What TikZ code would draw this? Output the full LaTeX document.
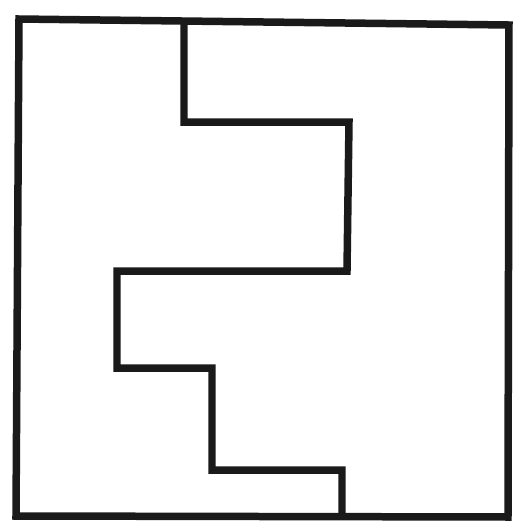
\documentclass[tikz,border=0pt]{standalone}
\usepackage{tikz}
\usetikzlibrary{calc}
\usepackage{xcolor}
\definecolor{ink}{HTML}{1A1A1A}

\begin{document}
\begin{tikzpicture}[x=0.02cm, y=-0.02cm,
    wall/.style={ink, line width=0.15cm, line join=miter}]
  \useasboundingbox (0,0) rectangle (514,522);
  % outer frame
  \coordinate (tl) at (19,19);
  \coordinate (tr) at (509,25);
  \coordinate (br) at (508,517);
  \coordinate (bl) at (16,516);
  \draw[wall] (tl) -- (tr) -- (br) -- (bl) -- cycle;
  % staircase partition
  \coordinate (top) at (184,21);
  \coordinate (bot) at (342,517);
  \draw[wall] (top) -- (184,122) -- (349,122) -- (347,271) -- (117,271)
    -- (117,368) -- (212,368) -- (212,470) -- (342,470) -- (bot);
\end{tikzpicture}
\end{document}
